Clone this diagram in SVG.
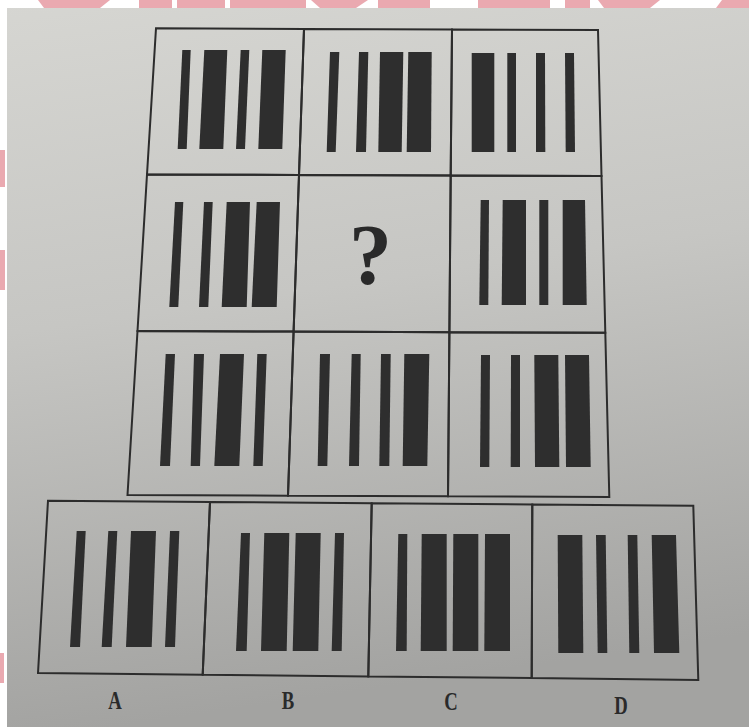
<svg xmlns="http://www.w3.org/2000/svg" width="749" height="727" viewBox="0 0 749 727">
<defs>
<linearGradient id="bg" x1="0" y1="0" x2="0.15" y2="1">
<stop offset="0" stop-color="#d6d6d2"/>
<stop offset="0.45" stop-color="#c6c6c3"/>
<stop offset="1" stop-color="#a3a3a1"/>
</linearGradient>
<style>
.cell{fill:none;stroke:#2c2c2c;stroke-width:2;stroke-linejoin:miter}
.bar{fill:#2e2e2e}
.pink{fill:#eaa9b0}
.lbl{font-family:"Liberation Serif","DejaVu Serif",serif;font-size:26px;font-weight:bold;fill:#2a2a2a;text-anchor:middle}
.q{font-family:"Liberation Serif","DejaVu Serif",serif;font-size:86px;font-weight:bold;fill:#2a2a2a;text-anchor:middle}
</style>
</defs>
<rect x="0" y="0" width="749" height="727" fill="url(#bg)"/>
<rect x="0" y="0" width="749" height="8" fill="#ffffff"/>
<rect x="0" y="0" width="7" height="727" fill="#ffffff"/>
<g id="watermark">
<polygon class="pink" points="38,0 110,0 100,8 44,8"/>
<rect class="pink" x="139" y="0" width="33" height="8"/>
<rect class="pink" x="177" y="0" width="48" height="8"/>
<rect class="pink" x="230" y="0" width="76" height="8"/>
<polygon class="pink" points="311,0 368,0 356,8 320,8"/>
<rect class="pink" x="378" y="0" width="52" height="8"/>
<rect class="pink" x="478" y="0" width="72" height="8"/>
<rect class="pink" x="565" y="0" width="25" height="8"/>
<polygon class="pink" points="598,0 660,0 650,8 604,8"/>
<polygon class="pink" points="722,0 749,0 749,8 716,8"/>
<rect class="pink" x="0" y="150" width="5" height="37"/>
<rect class="pink" x="0" y="250" width="5" height="40"/>
<rect class="pink" x="0" y="653" width="4" height="30"/>
</g>
<g id="cell-r1c1">
<polygon class="cell" points="156,28.3 304,29 299,175 147,174.5"/>
<polygon class="bar" points="182.3,50 190.7,50 186.7,149 177.7,149"/>
<polygon class="bar" points="204.3,50 227.3,50 223.3,149 199.3,149"/>
<polygon class="bar" points="240.7,50 249.3,50 245,149 236,149"/>
<polygon class="bar" points="262.3,50 285.7,50 282.3,149 258.3,149"/>
</g>
<g id="cell-r1c2">
<polygon class="cell" points="304,29 452,29.5 450.7,175.5 299,175"/>
<polygon class="bar" points="330,52 339.3,52 335.7,152 326.7,152"/>
<polygon class="bar" points="359,52 368.3,52 366,152 356,152"/>
<polygon class="bar" points="380,52 403.3,52 401.7,152 378.3,152"/>
<polygon class="bar" points="408.3,52 431.7,52 431,152 406.7,152"/>
</g>
<g id="cell-r1c3">
<polygon class="cell" points="452,29.5 598,30 601.5,176 450.7,175.5"/>
<polygon class="bar" points="471.7,53 494.3,53 494.3,152 471.7,152"/>
<polygon class="bar" points="507.3,53 516,53 516,152 507.3,152"/>
<polygon class="bar" points="536,53 545,53 545.3,152 536,152"/>
<polygon class="bar" points="565,53 574,53 575,152 565.7,152"/>
</g>
<g id="cell-r2c1">
<polygon class="cell" points="147,174.5 299,175 293.6,331.6 137.5,331"/>
<polygon class="bar" points="175,202 183.3,202 178.3,307 169.3,307"/>
<polygon class="bar" points="204,202 212.7,202 208.3,307 199,307"/>
<polygon class="bar" points="226.7,202 250,202 246.7,307 221.7,307"/>
<polygon class="bar" points="256.7,202 280,202 276.7,307 251.7,307"/>
</g>
<g id="cell-r2c2">
<polygon class="cell" points="299,175 450.7,175.5 449.4,332.2 293.6,331.6"/>
<text class="q" x="370.5" y="284">?</text>
</g>
<g id="cell-r2c3">
<polygon class="cell" points="450.7,175.5 601.5,176 605.3,332.8 449.4,332.2"/>
<polygon class="bar" points="480.7,200 489,200 488.3,305 479.3,305"/>
<polygon class="bar" points="502.7,200 526,200 526,305 501.7,305"/>
<polygon class="bar" points="539.3,200 548.3,200 548.3,305 539.3,305"/>
<polygon class="bar" points="562.7,200 585,200 586.7,305 562.7,305"/>
</g>
<g id="cell-r3c1">
<polygon class="cell" points="137.5,331 293.6,331.6 288,495.7 127.5,495"/>
<polygon class="bar" points="165.7,354 175,354 170,466 160,466"/>
<polygon class="bar" points="194,354 204,354 200,466 190.7,466"/>
<polygon class="bar" points="220,354 244,354 239.3,466 214.3,466"/>
<polygon class="bar" points="257.3,354 266.7,354 262.7,466 253.3,466"/>
</g>
<g id="cell-r3c2">
<polygon class="cell" points="293.6,331.6 449.4,332.2 448,496.3 288,495.7"/>
<polygon class="bar" points="320,354 330,354 327.3,466 317.7,466"/>
<polygon class="bar" points="351.7,354 360.7,354 359,466 349,466"/>
<polygon class="bar" points="381,354 390.7,354 389.3,466 379.3,466"/>
<polygon class="bar" points="404.3,354 429.3,354 427.3,466 402.7,466"/>
</g>
<g id="cell-r3c3">
<polygon class="cell" points="449.4,332.2 605.3,332.8 609.3,497 448,496.3"/>
<polygon class="bar" points="481,355 490,355 489.3,467 480,467"/>
<polygon class="bar" points="511,355 520,355 520,467 510.7,467"/>
<polygon class="bar" points="534.3,355 558.3,355 559.3,467 535,467"/>
<polygon class="bar" points="565,355 589,355 590.7,467 566,467"/>
</g>
<g id="option-A">
<polygon class="cell" points="48,500.7 210,502 202.7,674.7 38,673"/>
<polygon class="bar" points="76.7,531 85.7,531 80,647 70,647"/>
<polygon class="bar" points="108.3,531 117.3,531 111.7,647 101.7,647"/>
<polygon class="bar" points="131,531 156,531 151.7,647 126,647"/>
<polygon class="bar" points="170,531 179.3,531 175,647 165,647"/>
<text class="lbl" transform="translate(115,709) scale(0.72,1)" x="0" y="0">A</text>
</g>
<g id="option-B">
<polygon class="cell" points="210,502 371.7,503.2 368.3,676.5 202.7,674.7"/>
<polygon class="bar" points="241,533 250,533 246.7,651 236,651"/>
<polygon class="bar" points="264.3,533 289.3,533 286.7,651 261,651"/>
<polygon class="bar" points="295.7,533 320.7,533 318.3,651 292.7,651"/>
<polygon class="bar" points="335,533 344,533 341.7,651 331.7,651"/>
<text class="lbl" transform="translate(288,709) scale(0.72,1)" x="0" y="0">B</text>
</g>
<g id="option-C">
<polygon class="cell" points="371.7,503.2 532.3,504.5 531.7,678 368.3,676.5"/>
<polygon class="bar" points="398.3,534 407.3,534 406.7,651 396,651"/>
<polygon class="bar" points="421.7,534 446.7,534 446.7,651 420.7,651"/>
<polygon class="bar" points="453.3,534 478.3,534 478.3,651 452.7,651"/>
<polygon class="bar" points="485,534 510,534 510,651 484.3,651"/>
<text class="lbl" transform="translate(451,710) scale(0.72,1)" x="0" y="0">C</text>
</g>
<g id="option-D">
<polygon class="cell" points="532.3,504.5 693.3,505.7 698.3,680 531.7,678"/>
<polygon class="bar" points="557.7,535 582.3,535 583.3,653 558.3,653"/>
<polygon class="bar" points="596,535 605.7,535 607.3,653 597.7,653"/>
<polygon class="bar" points="627.7,535 637.3,535 639.3,653 629.3,653"/>
<polygon class="bar" points="651.7,535 676,535 679.3,653 654,653"/>
<text class="lbl" transform="translate(621,714) scale(0.72,1)" x="0" y="0">D</text>
</g>
<g id="connectors"/>
</svg>
